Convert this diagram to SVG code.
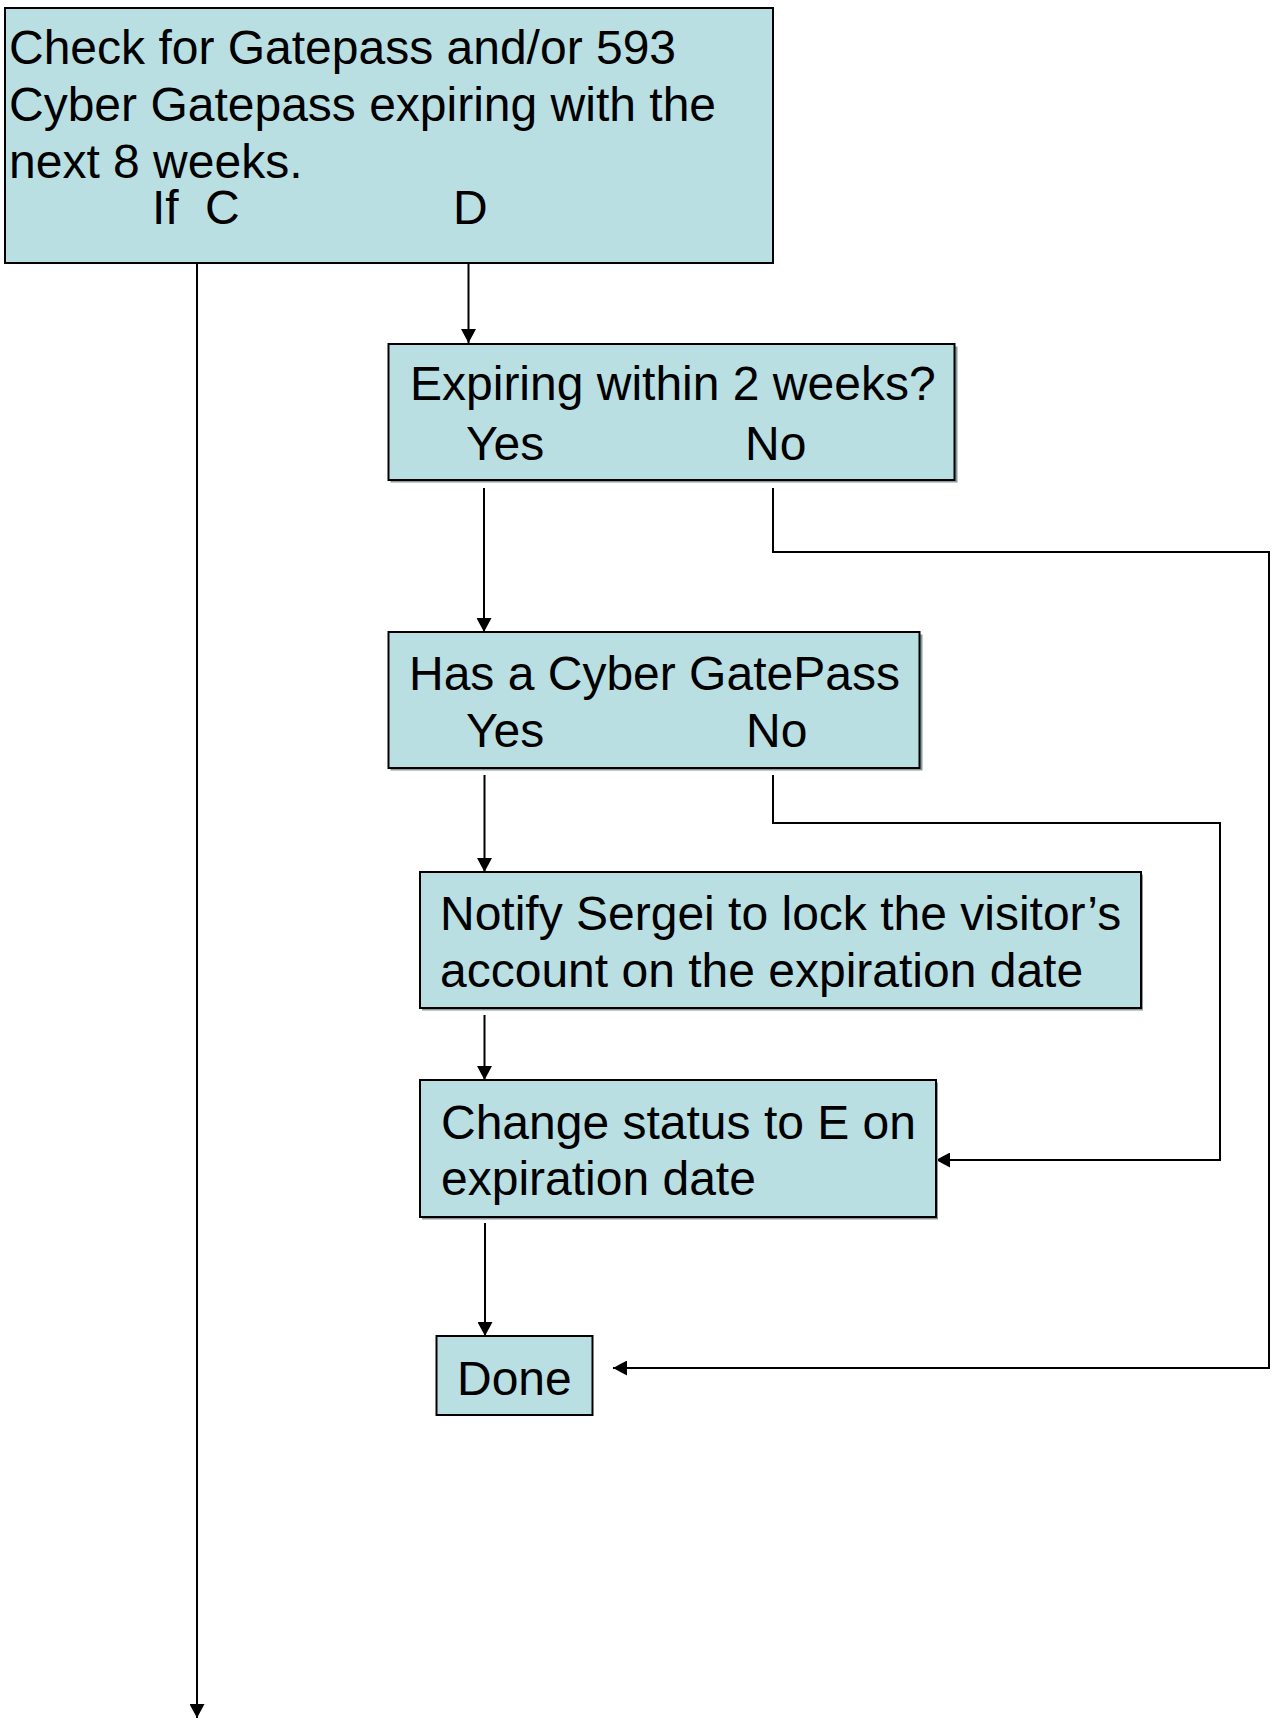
<svg xmlns="http://www.w3.org/2000/svg" width="1275" height="1720" viewBox="0 0 1275 1720">
<style>
.box{fill:#BADFE2;stroke:#000;stroke-width:2}
.sh{fill:#8a9a9c}
.t{font-family:"Liberation Sans",Arial,sans-serif;font-size:48px;fill:#000}
.c{fill:none;stroke:#000;stroke-width:2}
</style>
<defs>
<marker id="ah" viewBox="0 0 14 15" refX="14" refY="7.5" markerWidth="14" markerHeight="15" markerUnits="userSpaceOnUse" orient="auto">
<path d="M0,0 L14,7.5 L0,15 z" fill="#000"/>
</marker>
</defs>
<rect width="1275" height="1720" fill="#fff"/>
<g id="connectors">
<line class="c" x1="468.5" y1="263" x2="468.5" y2="343" marker-end="url(#ah)"/>
<line class="c" x1="197" y1="263" x2="197" y2="1718" marker-end="url(#ah)"/>
<line class="c" x1="484" y1="488" x2="484" y2="632" marker-end="url(#ah)"/>
<polyline class="c" points="773,488 773,552 1269,552 1269,1368 613,1368" marker-end="url(#ah)"/>
<line class="c" x1="484.5" y1="775" x2="484.5" y2="872" marker-end="url(#ah)"/>
<polyline class="c" points="773,775 773,823 1220,823 1220,1160 936,1160" marker-end="url(#ah)"/>
<line class="c" x1="484.5" y1="1015" x2="484.5" y2="1080" marker-end="url(#ah)"/>
<line class="c" x1="485" y1="1223" x2="485" y2="1336" marker-end="url(#ah)"/>
</g>
<g id="node-check">
<rect class="box" x="5" y="8" width="768" height="255"/>
<text class="t" x="9" y="64">Check for Gatepass and/or 593</text>
<text class="t" x="9" y="121">Cyber Gatepass expiring with the</text>
<text class="t" x="9" y="178">next 8 weeks.</text>
<text class="t" x="152" y="224">If</text>
<text class="t" x="205" y="224">C</text>
<text class="t" x="453" y="224">D</text>
</g>
<g id="node-expiring">
<rect class="sh" x="390.5" y="346.5" width="567" height="136"/>
<rect class="box" x="388.5" y="344" width="566" height="136"/>
<text class="t" x="410" y="400">Expiring within 2 weeks?</text>
<text class="t" x="466" y="460">Yes</text>
<text class="t" x="745" y="460">No</text>
</g>
<g id="node-cyber">
<rect class="sh" x="390.5" y="634.5" width="532" height="136"/>
<rect class="box" x="388.5" y="632" width="531" height="136"/>
<text class="t" x="409" y="690">Has a Cyber GatePass</text>
<text class="t" x="466" y="747">Yes</text>
<text class="t" x="746" y="747">No</text>
</g>
<g id="node-notify">
<rect class="sh" x="422" y="874.5" width="721" height="136"/>
<rect class="box" x="420" y="872" width="721" height="136"/>
<text class="t" x="440" y="930">Notify Sergei to lock the visitor’s</text>
<text class="t" x="440" y="987">account on the expiration date</text>
</g>
<g id="node-change">
<rect class="sh" x="422" y="1082.5" width="516" height="137"/>
<rect class="box" x="420" y="1080" width="516" height="137"/>
<text class="t" x="441" y="1139">Change status to E on</text>
<text class="t" x="441" y="1195">expiration date</text>
</g>
<g id="node-done">
<rect class="box" x="436.5" y="1336" width="156" height="79"/>
<text class="t" x="457" y="1395">Done</text>
</g>
</svg>
